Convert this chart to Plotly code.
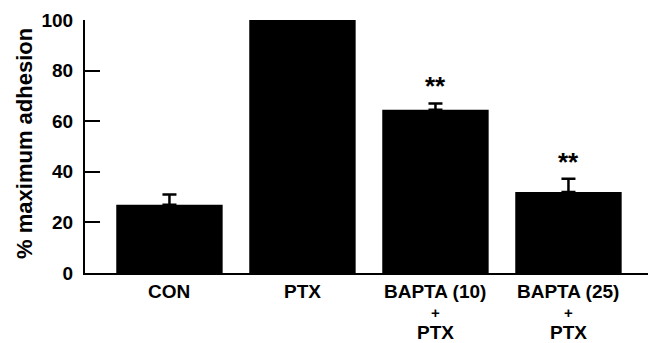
import plotly.graph_objects as go

categories = ["CON", "PTX", "BAPTA (10)<br>+<br>PTX", "BAPTA (25)<br>+<br>PTX"]
values = [27, 100, 64.5, 32]
errors = [4, 0, 2.5, 5.3]
signif = ["", "", "**", "**"]
y_ticks = [0, 20, 40, 60, 80, 100]
y_title = "% maximum adhesion"

x_idx = list(range(len(categories)))
FONT = "Liberation Sans"

fig = go.Figure()
fig.add_trace(go.Bar(
    x=x_idx, y=values, width=0.8,
    marker=dict(color="black", line=dict(width=0)),
    error_y=dict(type="data", array=errors, arrayminus=[0] * len(errors),
                 symmetric=False, color="black", thickness=2.5, width=7),
))

for xi, v, e, s in zip(x_idx, values, errors, signif):
    if s:
        fig.add_annotation(x=xi, y=v + e, text=s, showarrow=False,
                           yanchor="middle", yshift=17,
                           font=dict(size=26, color="black", family=FONT, weight="bold"))

# category labels, one annotation per line for tight line spacing
line_offsets = [-18, -39.5, -59]
line_sizes = [19, 15, 19]
for xi, cat in zip(x_idx, categories):
    for k, part in enumerate(cat.split("<br>")):
        fig.add_annotation(x=xi, xref="x", y=0, yref="paper", text=part,
                           showarrow=False, yanchor="middle", yshift=line_offsets[k],
                           font=dict(size=line_sizes[k], color="black", family=FONT,
                                     weight="bold"))

fig.add_annotation(x=-0.1066, xref="paper", y=0.514, yref="paper", text=y_title,
                   textangle=-90, showarrow=False, xanchor="center", yanchor="middle",
                   font=dict(size=22, color="black", family=FONT, weight="bold"))

fig.update_layout(
    width=649, height=343,
    margin=dict(l=85, r=1, t=20, b=70),
    paper_bgcolor="white", plot_bgcolor="white",
    font=dict(family=FONT, size=19, color="black", weight="bold"),
    showlegend=False,
)
fig.update_xaxes(
    range=[-0.635, 3.598], tickmode="array", tickvals=x_idx, showticklabels=False,
    showline=True, linecolor="black", linewidth=2, ticks="", showgrid=False,
    zeroline=False, automargin=False,
)
fig.update_yaxes(
    range=[0, 100], tickmode="array", tickvals=y_ticks,
    showline=True, linecolor="black", linewidth=2, ticks="inside", ticklen=15,
    tickwidth=2, tickcolor="black", showgrid=False, zeroline=False,
    tickfont=dict(size=19, weight="bold", family=FONT), automargin=False,
    ticklabelstandoff=6,
)

fig.write_html("out.html", config={"displayModeBar": False},
               post_script="document.body.style.margin='0px';")
